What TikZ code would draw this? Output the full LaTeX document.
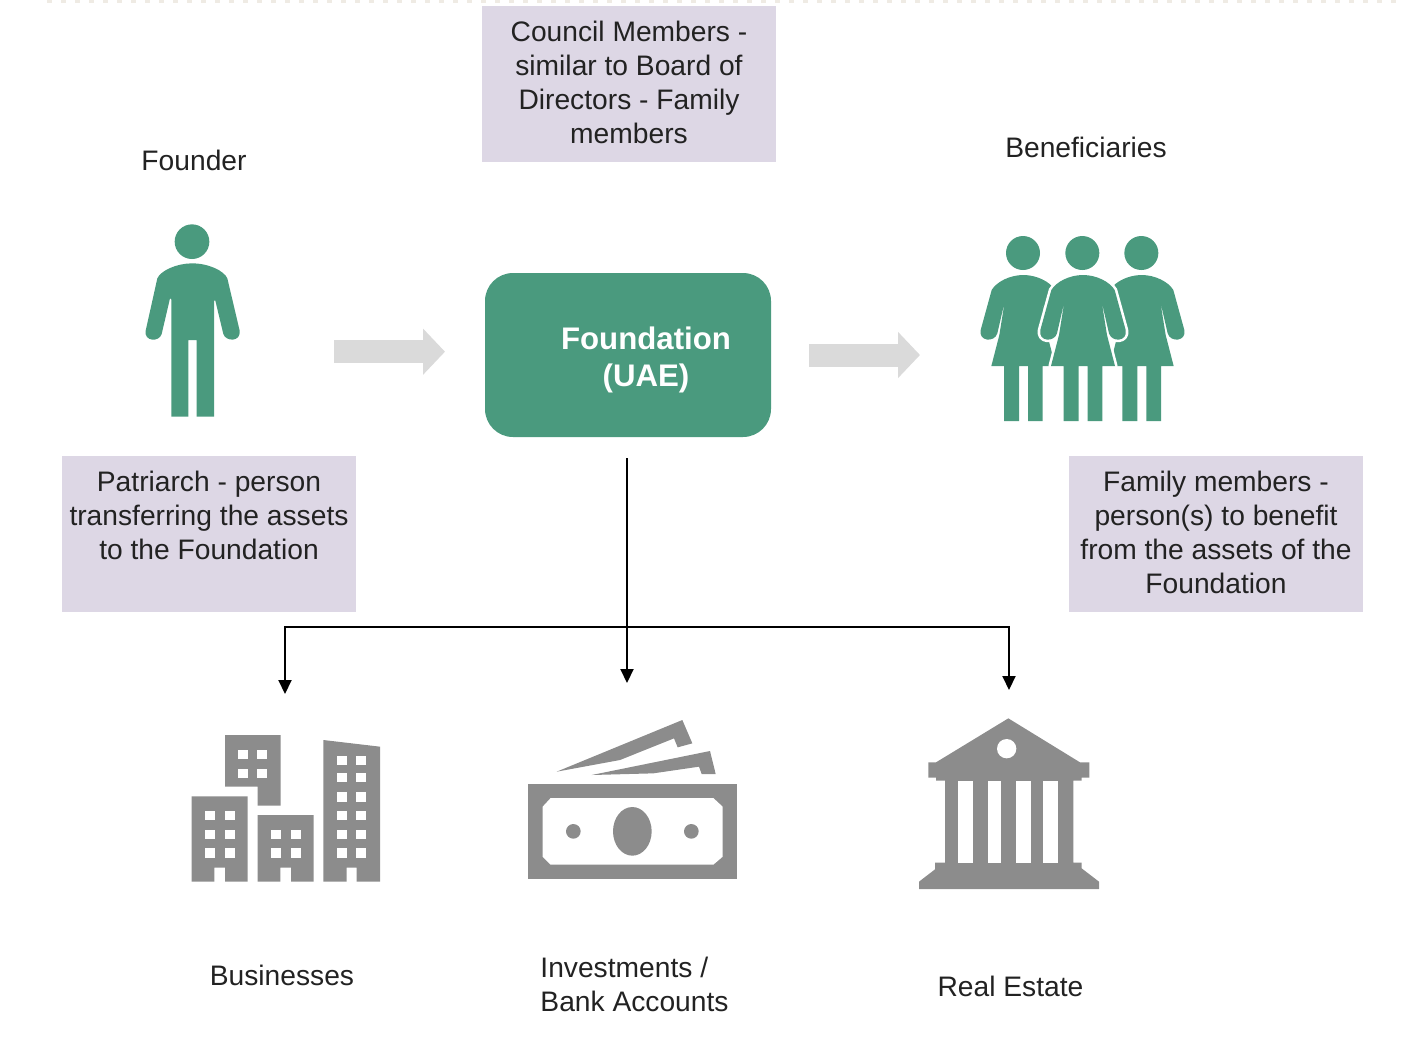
\documentclass[tikz,border=0pt]{standalone}
\usepackage{fontspec}
\setmainfont{Liberation Sans}
\usetikzlibrary{arrows.meta}
\definecolor{lilac}{HTML}{DDD7E5}
\definecolor{teal1}{HTML}{4A9A7E}
\definecolor{grayicon}{HTML}{8C8C8C}
\definecolor{grayarrow}{HTML}{DADADA}
\definecolor{ink}{HTML}{222222}
\definecolor{dots}{HTML}{EFEBE4}
\newcommand{\womanshape}{(-58,603)--(-58,438)--(-96,438)--(-72,345)--(-56,245)--(-78,340) .. controls (-86,368) and (-135,365) .. (-128,330) -- (-95,210) .. controls (-80,185) and (-40,165) .. (0,165) .. controls (40,165) and (80,185) .. (95,210) -- (128,330) .. controls (135,365) and (86,368) .. (78,340) -- (56,245) -- (72,345) -- (96,438) -- (58,438) -- (58,603) -- (14,603) -- (14,438) -- (-13,438) -- (-13,603) -- cycle}
\newcommand{\lift}{\rule[-1.5pt]{0pt}{1.5pt}}
\tikzset{
  note/.style={fill=lilac,minimum width=147pt,minimum height=78pt,inner sep=0pt,align=center,text=ink,font=\fontsize{14.1}{17}\selectfont},
  caption/.style={inner sep=0pt,align=center,text=ink,font=\fontsize{14.1}{17}\selectfont},
  conn/.style={draw=black,line width=1pt,-{Triangle[length=7pt,width=6.5pt]}},
  blockarrow/.style={draw=grayarrow,line width=11.5pt,-{Triangle[length=11pt,width=22.5pt]}},
  zoomed/.style={x=0.166667pt,y=-0.166667pt},
  teal/.style={fill=teal1},
  icon/.style={fill=grayicon},
  hole/.style={fill=white}
}
\begin{document}
\begin{tikzpicture}[x=0.5pt,y=-0.5pt]
\useasboundingbox (0,0) rectangle (1404,1062);
\coordinate (dotL) at (47,1);
\coordinate (dotR) at (1404,1);
\draw[dots,line width=1.5pt,dash pattern=on 2.5pt off 4.5pt] (dotL) -- (dotR);
% notes
\node[note] (council) at (629,83.5) {Council Members -\\similar to Board of\\Directors - Family\\members\lift};
\node[note] (patriarch) at (209,534) {Patriarch - person\\transferring the assets\\to the Foundation\\\lift};
\node[note] (family) at (1216,534) {Family members -\\person(s) to benefit\\from the assets of the\\Foundation\lift};
% foundation
\node[fill=teal1,rounded corners=14pt,minimum width=143pt,minimum height=82pt,inner sep=0pt,align=center,text=white,font=\fontsize{15.6}{18.5}\selectfont\bfseries] (foundation) at (628,355) {\hspace*{18pt}\rule{0pt}{16.5pt}Foundation\\\hspace*{18pt}(UAE)};
% captions
\node[caption] (founder) at (194,160) {Founder};
\node[caption] (beneficiaries) at (1086,147) {Beneficiaries};
\node[caption] (businesses) at (282,975) {Businesses};
\node[caption,align=left] (investments) at (634.5,984.5) {Investments /\\Bank Accounts};
\node[caption] (realestate) at (1010.5,986) {Real Estate};
% block arrows
\coordinate (a1s) at (334,351.7);
\coordinate (a1e) at (445,351.7);
\coordinate (a2s) at (809,355);
\coordinate (a2e) at (920,355);
\draw[blockarrow] (a1s) -- (a1e);
\draw[blockarrow] (a2s) -- (a2e);
% connectors
\coordinate (trunk) at (627,458);
\coordinate (junction) at (627,627);
\coordinate (tipinv) at (627,683);
\coordinate (tipbus) at (285,694);
\coordinate (tipre) at (1009,690);
\draw[conn] (trunk) -- (tipinv);
\draw[conn] (junction) -| (tipbus);
\draw[conn] (junction) -| (tipre);
% founder icon
\begin{scope}[shift={(130,210)},zoomed]
\fill[teal] (186,95) circle[radius=52];
\fill[teal] (124,620) -- (124,268) -- (120,265) -- (95,372) .. controls (88,397) and (41,395) .. (47,362) -- (82,205) .. controls (92,182) and (140,160) .. (186,160) .. controls (235,160) and (282,182) .. (292,205) -- (329,362) .. controls (333,397) and (287,395) .. (280,372) -- (256,272) -- (252,272) -- (252,620) -- (200,620) -- (200,390) -- (175,390) -- (175,620) -- cycle;
\end{scope}
% beneficiaries icon
\begin{scope}[shift={(960,220)},zoomed]
\fill[teal] (189,99) circle[radius=51];
\fill[teal] (367,99) circle[radius=51];
\fill[teal] (544,99) circle[radius=51];
\begin{scope}[xshift=31.67pt]
\fill[teal] \womanshape;
\end{scope}
\begin{scope}[xshift=90.83pt]
\fill[teal] \womanshape;
\end{scope}
\begin{scope}[xshift=61.5pt]
\draw[white,line width=2.6pt,line join=round] \womanshape;
\fill[teal] \womanshape;
\end{scope}
\end{scope}
% buildings
\begin{scope}[shift={(180,720)},zoomed]
\fill[icon] (135,45)--(302,45)--(302,257)--(233,257)--(233,200)--(135,200)--cycle;
\fill[icon] (35,229)--(203,229)--(203,485)--(135,485)--(135,443)--(103,443)--(103,485)--(35,485)--cycle;
\fill[icon] (233,285)--(401,285)--(401,485)--(333,485)--(333,443)--(301,443)--(301,485)--(233,485)--cycle;
\fill[icon] (430,60)--(600,80)--(600,485)--(530,485)--(530,443)--(500,443)--(500,485)--(430,485)--cycle;
\foreach \xa/\ya in {173/90,232/90,173/146,232/146,74/273,134/273,74/329,134/329,74/385,134/385,273/329,332/329,273/385,332/385,472/108,528/108,472/158,528/158,472/217,528/217,472/273,528/273,472/329,528/329,472/385,528/385}
  \fill[hole] (\xa,\ya) rectangle ++(30,28);
\end{scope}
% money
\begin{scope}[shift={(520,710)},zoomed]
\fill[icon] (110,185)--(487,30)--(517,100)--(473,112)--(462,85)--(300,150)--cycle;
\fill[icon] (215,195)--(570,123)--(587,192)--(545,192)--(537,170)--(400,190)--cycle;
\fill[icon] (24,222) rectangle (651,508);
\fill[hole] (92,264)--(580,264)--(608,290)--(608,440)--(580,464)--(92,464)--(68,440)--(68,290)--cycle;
\fill[icon] (337,364) ellipse[x radius=58,y radius=73];
\fill[icon] (160,364) circle[radius=22];
\fill[icon] (514,364) circle[radius=22];
\end{scope}
% bank
\begin{scope}[shift={(910,710)},zoomed]
\fill[icon] (295,25)--(510,157)--(538,157)--(538,203)--(515,203)--(515,212)--(490,212)--(490,458)--(515,458)--(515,475)--(567,515)--(567,537)--(27,537)--(27,515)--(75,478)--(75,458)--(105,458)--(105,212)--(78,212)--(78,203)--(55,203)--(55,157)--(78,157)--cycle;
\fill[hole] (290,116) circle[radius=29];
\foreach \xa/\xb in {145/190,233/272,317/362,400/445}
  \fill[hole] (\xa,214) rectangle (\xb,458);
\end{scope}
\end{tikzpicture}
\end{document}
